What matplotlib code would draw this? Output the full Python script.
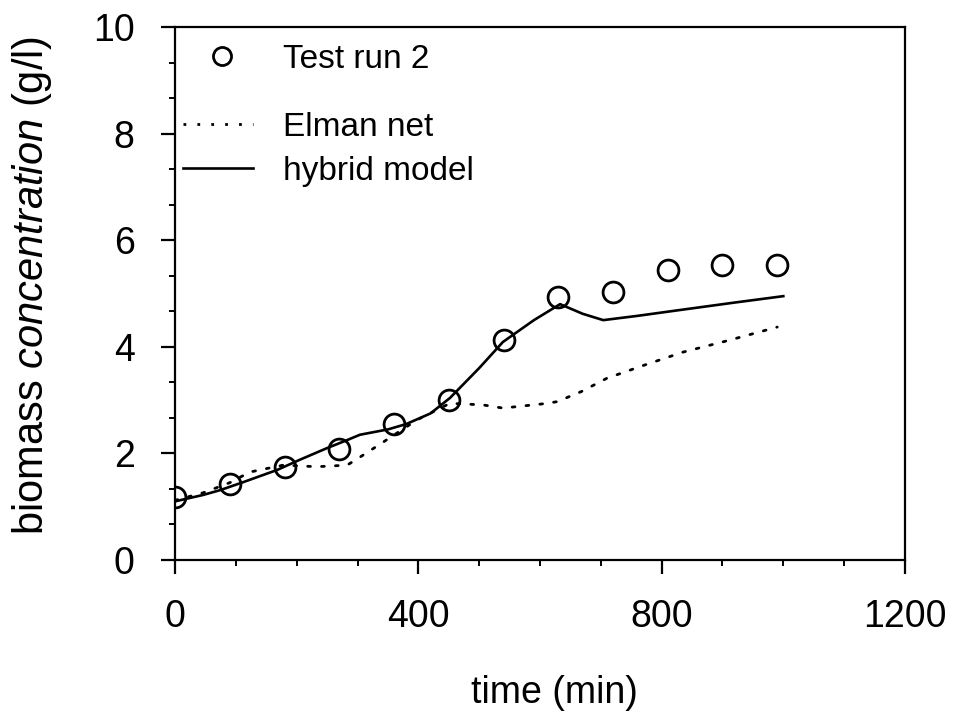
import matplotlib
matplotlib.use("Agg")
import matplotlib.pyplot as plt
from matplotlib.lines import Line2D
from matplotlib.ticker import MultipleLocator, AutoMinorLocator

plt.rcParams["font.family"] = ["Liberation Sans", "DejaVu Sans"]
plt.rcParams["mathtext.fontset"] = "custom"
plt.rcParams["mathtext.rm"] = "Liberation Sans"
plt.rcParams["mathtext.it"] = "Liberation Sans:italic"

# measured biomass, test run 2
t_meas = [0, 90, 180, 270, 360, 450, 540, 630, 720, 810, 900, 990]
x_meas = [1.18, 1.43, 1.74, 2.08, 2.55, 3.00, 4.12, 4.93, 5.02, 5.44, 5.54, 5.53]

# Elman net prediction
t_elman = [0, 46, 90, 123, 178, 233, 283, 304, 342, 398, 452, 506, 539, 605, 628,
           668, 710, 770, 835, 910, 990]
x_elman = [1.12, 1.26, 1.45, 1.65, 1.78, 1.75, 1.78, 1.93, 2.21, 2.63, 2.94, 2.91,
           2.85, 2.93, 2.97, 3.16, 3.41, 3.65, 3.90, 4.12, 4.37]

# hybrid model prediction
t_hyb = [0, 46, 74, 112, 168, 205, 250, 283, 304, 350, 380, 420, 452, 500, 539,
         590, 633, 670, 704, 760, 830, 920, 1000]
x_hyb = [1.10, 1.22, 1.31, 1.46, 1.69, 1.88, 2.10, 2.25, 2.35, 2.45, 2.55, 2.75,
         3.04, 3.60, 4.09, 4.50, 4.80, 4.62, 4.50, 4.58, 4.69, 4.83, 4.95]

fig = plt.figure(figsize=(9.6, 7.27), dpi=100)
ax = fig.add_axes([0.1823, 0.2297, 0.7604, 0.7332])

ax.plot(t_elman, x_elman, color="black", lw=2.0, linestyle=(0, (1, 4)),
        dash_capstyle="round")
ax.plot(t_hyb, x_hyb, color="black", lw=1.9)
ax.plot(t_meas, x_meas, linestyle="none", marker="o", markersize=15,
        markerfacecolor="none", markeredgecolor="black", markeredgewidth=2.0)

ax.set_xlim(0, 1200)
ax.set_ylim(0, 10)
ax.xaxis.set_major_locator(MultipleLocator(400))
ax.xaxis.set_minor_locator(MultipleLocator(100))
ax.yaxis.set_major_locator(MultipleLocator(2))
ax.yaxis.set_minor_locator(AutoMinorLocator(3))

for s in ax.spines.values():
    s.set_linewidth(1.6)
ax.tick_params(which="major", direction="out", length=10, width=1.6,
               labelsize=27, top=False, right=False)
ax.tick_params(which="minor", direction="out", length=4.5, width=1.4,
               top=False, right=False)
ax.tick_params(axis="x", which="major", pad=18)
ax.tick_params(axis="y", which="major", pad=19)

ax.set_xlabel("time (min)", fontsize=27, labelpad=29, x=0.52)
ax.set_ylabel(r"biomass $\mathit{concentration}$ (g/l)", fontsize=30,
              labelpad=28, y=0.515)

# legend: marker entry on its own, lines below
h_meas = Line2D([], [], linestyle="none", marker="o", markersize=13,
                markerfacecolor="none", markeredgecolor="black", markeredgewidth=2.0)
leg1 = ax.legend([h_meas], ["Test run 2"], loc="upper left", frameon=False,
                 fontsize=24, bbox_to_anchor=(0.011, 0.968), handlelength=2.34,
                 handletextpad=0.66, borderaxespad=0, borderpad=0)
ax.add_artist(leg1)
h_elman = Line2D([], [], color="black", lw=2.0, linestyle=(0, (1, 4)))
h_hyb = Line2D([], [], color="black", lw=1.9)
ax.legend([h_elman, h_hyb], ["Elman net", "hybrid model"], loc="upper left",
          frameon=False, fontsize=24, bbox_to_anchor=(0.011, 0.841),
          handlelength=2.1, handletextpad=0.9, labelspacing=0.4,
          borderaxespad=0, borderpad=0)

fig.savefig("out.png", dpi=100)
